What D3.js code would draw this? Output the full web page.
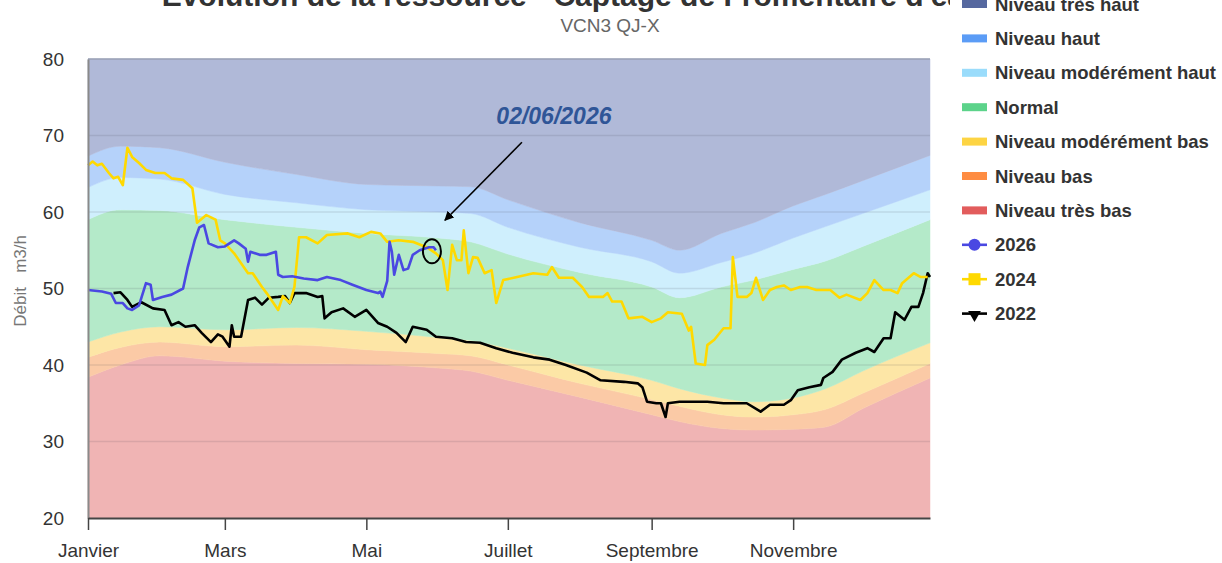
<!DOCTYPE html>
<html>
<head>
<meta charset="utf-8">
<script src="https://cdn.jsdelivr.net/npm/d3@7"></script>
<style>
  body { margin: 0; background: #fff; }
  svg { font-family: "Liberation Sans", Arial, sans-serif; display: block; }
</style>
</head>
<body>
<div id="chart"></div>
<script>
// Dimensions
var svgWidth = 1222;
var svgHeight = 563;

var chartMargin = { top: 59, right: 292, bottom: 45, left: 88 };
var chartWidth = svgWidth - chartMargin.left - chartMargin.right;
var chartHeight = svgHeight - chartMargin.top - chartMargin.bottom;

// Jours de l'année (0 = 1er janvier) des seuils
var seuilJours = [0, 14, 31, 59, 90, 120, 151, 165, 181, 212, 243, 255, 273, 287, 304, 318, 334, 363];
var seuilTresHaut = [67.3, 68.6, 68.4, 66.5, 64.9, 63.6, 63.4, 63.3, 61.6, 58.6, 56.3, 55.0, 57.2, 58.6, 60.8, 62.3, 64.1, 67.4];
var seuilHaut = [63.2, 64.5, 64.3, 62.3, 61.2, 60.3, 60.0, 59.8, 58.0, 55.4, 53.5, 52.0, 53.4, 54.6, 56.6, 58.1, 59.8, 62.9];
var seuilModHaut = [59.0, 60.3, 60.2, 59.0, 58.0, 57.2, 56.6, 56.1, 54.5, 52.1, 50.2, 48.8, 50.2, 51.1, 52.5, 53.6, 55.5, 59.0];
var seuilModBas = [43.0, 44.3, 45.0, 44.6, 44.9, 44.4, 43.6, 43.2, 42.2, 40.0, 38.0, 36.9, 35.7, 35.2, 35.7, 36.9, 39.2, 42.9];
var seuilBas = [41.0, 42.3, 43.0, 42.4, 42.6, 42.0, 41.5, 41.2, 40.0, 37.6, 35.5, 34.6, 33.5, 33.2, 33.5, 34.2, 36.3, 40.2];
var seuilTresBas = [38.4, 40.0, 41.2, 40.5, 40.2, 40.1, 39.6, 39.2, 38.0, 35.8, 33.5, 32.6, 31.7, 31.5, 31.6, 31.9, 34.3, 38.3];

// Chroniques
var jours2026 = [0, 6, 10, 12, 15, 17, 19, 22, 25, 27, 28, 32, 36, 41, 43, 46, 48, 50, 52, 56, 59, 63, 65, 68, 69, 70, 74, 77, 81, 82, 84, 88, 93, 99, 103, 109, 114, 120, 125, 126, 127, 129, 130, 131, 132, 134, 136, 138, 140, 143, 147, 149, 150];
var debit2026 = [49.8, 49.6, 49.3, 48.1, 48.1, 47.4, 47.2, 47.8, 50.7, 50.5, 48.5, 48.9, 49.2, 50.0, 52.8, 56.3, 58.0, 58.3, 55.9, 55.4, 55.5, 56.3, 55.9, 55.2, 53.5, 54.8, 54.4, 54.4, 54.8, 51.8, 51.5, 51.6, 51.3, 51.1, 51.5, 51.1, 50.5, 49.8, 49.4, 49.6, 48.9, 51.0, 56.1, 54.8, 51.8, 54.4, 52.4, 52.6, 54.4, 55.0, 55.4, 55.4, 55.0];

var jours2024 = [0, 2, 4, 6, 9, 11, 13, 15, 17, 19, 22, 25, 29, 33, 36, 41, 45, 47, 51, 55, 57, 59, 63, 69, 71, 75, 77, 82, 84, 87, 89, 91, 94, 99, 103, 112, 117, 122, 126, 129, 134, 140, 146, 150, 153, 155, 157, 159, 161, 162, 164, 166, 168, 171, 174, 176, 179, 185, 192, 198, 200, 203, 209, 213, 216, 222, 224, 226, 230, 233, 239, 243, 247, 250, 256, 259, 260, 262, 266, 267, 270, 274, 277, 278, 280, 284, 286, 288, 291, 294, 297, 300, 303, 307, 310, 314, 320, 324, 327, 333, 336, 339, 343, 346, 349, 351, 356, 359, 362];
var debit2024 = [66.1, 66.6, 66.1, 66.3, 65.1, 64.4, 64.6, 63.5, 68.4, 67.2, 66.4, 65.5, 65.1, 65.1, 64.4, 64.2, 63.1, 58.6, 59.6, 59.0, 56.3, 55.9, 54.6, 52.0, 52.0, 50.2, 49.4, 47.2, 49.0, 48.1, 50.2, 56.7, 56.7, 55.9, 57.0, 57.2, 56.7, 57.4, 57.2, 56.1, 56.3, 56.1, 55.4, 54.6, 53.7, 49.8, 55.7, 53.7, 53.7, 57.6, 52.0, 54.1, 54.0, 52.0, 52.4, 48.1, 51.1, 51.5, 52.0, 51.8, 52.8, 51.4, 51.4, 50.2, 48.9, 48.9, 49.4, 48.3, 48.3, 46.1, 46.3, 45.6, 46.1, 46.9, 46.7, 44.5, 45.0, 40.2, 40.0, 42.6, 43.3, 44.8, 44.8, 54.1, 48.9, 48.9, 49.4, 51.4, 48.5, 49.8, 50.2, 50.4, 49.8, 50.2, 50.2, 49.8, 49.8, 48.8, 49.2, 48.5, 49.4, 51.1, 49.8, 49.8, 49.4, 50.7, 52.0, 51.5, 51.5];

var jours2022 = [11, 14, 17, 19, 23, 28, 33, 36, 39, 42, 46, 49, 53, 56, 58, 61, 62, 63, 66, 69, 72, 75, 78, 82, 85, 87, 89, 94, 99, 101, 102, 105, 110, 115, 120, 125, 129, 133, 137, 140, 146, 150, 157, 163, 169, 176, 183, 192, 199, 206, 215, 221, 231, 237, 239, 241, 245, 247, 249, 250, 255, 267, 274, 284, 290, 294, 300, 303, 306, 311, 316, 317, 321, 325, 331, 336, 339, 343, 346, 348, 352, 355, 358, 360, 362, 363];
var debit2022 = [49.4, 49.5, 48.5, 47.6, 48.2, 47.4, 47.2, 45.2, 45.6, 45.0, 45.2, 44.2, 43.0, 44.0, 43.7, 42.4, 45.2, 43.7, 43.7, 48.5, 48.8, 47.9, 48.8, 48.9, 49.0, 48.1, 49.4, 49.4, 48.9, 49.0, 46.1, 46.9, 47.4, 46.3, 47.2, 45.5, 45.0, 44.2, 43.0, 45.0, 44.6, 43.7, 43.5, 43.0, 42.9, 42.2, 41.6, 41.0, 40.7, 40.0, 39.0, 38.0, 37.8, 37.6, 37.1, 35.2, 35.0, 35.0, 33.2, 35.0, 35.2, 35.2, 35.0, 35.0, 33.9, 34.8, 34.8, 35.4, 36.7, 37.1, 37.4, 38.3, 39.1, 40.7, 41.6, 42.2, 41.7, 43.5, 43.5, 46.9, 45.9, 47.6, 47.6, 49.4, 52.0, 51.5];

var moisTicks = ["Janvier", "Mars", "Mai", "Juillet", "Septembre", "Novembre"];
var yTicks = [20, 30, 40, 50, 60, 70, 80];

var start = new Date(2026, 0, 1);
function jour(d) { return d3.timeDay.offset(start, d); }

var svg = d3.select("#chart")
    .append("svg")
    .attr("width", svgWidth)
    .attr("height", svgHeight);

var chartGroup = svg.append("g")
    .attr("transform", `translate(${chartMargin.left}, ${chartMargin.top})`);

// Scales
var xScale = d3.scaleTime()
    .domain([jour(0), jour(363)])
    .range([0, chartWidth]);

var yScale = d3.scaleLinear()
    .domain([20, 80])
    .range([chartHeight, 0]);

// Bands
var seuils = seuilJours.map(function (j, i) {
    return {
        date: jour(j),
        v: [20, seuilTresBas[i], seuilBas[i], seuilModBas[i], seuilModHaut[i], seuilHaut[i], seuilTresHaut[i], 80]
    };
});

var bandColors = ["#f0b4b4", "#fbcaa6", "#fde6a6", "#b4eac9", "#cfeffd", "#b5d2fa", "#b0b9d8"];

bandColors.forEach(function (c, k) {
    var area = d3.area()
        .x(d => xScale(d.date))
        .y0(d => yScale(d.v[k]))
        .y1(d => yScale(d.v[k + 1]))
        .curve(d3.curveMonotoneX);
    chartGroup.append("path")
        .datum(seuils)
        .attr("d", area)
        .attr("fill", c)
        .attr("stroke", c)
        .attr("stroke-width", 0.5);
});

// Gridlines
chartGroup.append("g")
    .selectAll("line")
    .data(yTicks.slice(1))
    .enter()
    .append("line")
    .attr("x1", 0)
    .attr("x2", chartWidth)
    .attr("y1", d => yScale(d))
    .attr("y2", d => yScale(d))
    .attr("stroke", d => d == 80 ? "#9aa0b4" : "rgba(60,60,80,0.13)")
    .attr("stroke-width", 1.5);

// Lines
function serie(jours, valeurs) {
    return jours.map((j, i) => ({ date: jour(j), v: valeurs[i] }));
}
var line = d3.line()
    .x(d => xScale(d.date))
    .y(d => yScale(d.v));

var series = [
    { data: serie(jours2022, debit2022), color: "#000000" },
    { data: serie(jours2024, debit2024), color: "#ffd900" },
    { data: serie(jours2026, debit2026), color: "#4a48e2" }
];

series.forEach(function (s) {
    chartGroup.append("path")
        .datum(s.data)
        .attr("d", line)
        .attr("fill", "none")
        .attr("stroke", s.color)
        .attr("stroke-width", 2.6)
        .attr("stroke-linejoin", "round");
});

// Axes
var leftAxis = d3.axisLeft(yScale).tickValues(yTicks).tickSize(0).tickPadding(24);
var yAxisG = chartGroup.append("g").call(leftAxis);
yAxisG.select(".domain").attr("stroke", "#8a8a8a").attr("stroke-width", 2);
yAxisG.selectAll("text")
    .attr("font-size", 19)
    .attr("fill", "#333")
    .attr("font-family", "Liberation Sans, Arial, sans-serif");

var tickDates = [0, 2, 4, 6, 8, 10].map(m => new Date(2026, m, 1));
var bottomAxis = d3.axisBottom(xScale)
    .tickValues(tickDates)
    .tickFormat((d, i) => moisTicks[i])
    .tickSize(12)
    .tickSizeOuter(0)
    .tickPadding(14);
var xAxisG = chartGroup.append("g")
    .attr("transform", `translate(0, ${chartHeight})`)
    .call(bottomAxis);
xAxisG.select(".domain").attr("stroke", "#444").attr("stroke-width", 2);
xAxisG.selectAll("line").attr("stroke", "#444").attr("stroke-width", 1.5);
xAxisG.selectAll("text")
    .attr("font-size", 19)
    .attr("fill", "#333")
    .attr("font-family", "Liberation Sans, Arial, sans-serif");

// Axis title
svg.append("text")
    .attr("transform", `translate(26, ${chartMargin.top + yScale(51)}) rotate(-90)`)
    .attr("text-anchor", "middle")
    .attr("fill", "#777")
    .attr("font-size", 17)
    .style("white-space", "pre")
    .text("Débit   m3/h");

// Title + subtitle (title is partly above the top edge, as in the source)
svg.append("text")
    .attr("x", 572)
    .attr("y", 6)
    .attr("text-anchor", "middle")
    .attr("font-size", 30)
    .attr("font-weight", "bold")
    .attr("fill", "#333")
    .text("Évolution de la ressource - Captage de Fromentaire d'eau");

svg.append("text")
    .attr("x", 610)
    .attr("y", 32)
    .attr("text-anchor", "middle")
    .attr("font-size", 19)
    .attr("fill", "#666")
    .text("VCN3 QJ-X");

// Annotation
var last = series[2].data[series[2].data.length - 1];
var lx = chartMargin.left + xScale(last.date);
var ly = chartMargin.top + yScale(last.v);

svg.append("defs").append("marker")
    .attr("id", "arrow")
    .attr("viewBox", "0 0 10 10")
    .attr("refX", 9)
    .attr("refY", 5)
    .attr("markerWidth", 6)
    .attr("markerHeight", 6)
    .attr("orient", "auto")
    .append("path")
    .attr("d", "M0,0 L10,5 L0,10 z")
    .attr("fill", "#000");

svg.append("line")
    .attr("x1", lx + 86)
    .attr("y1", ly - 108)
    .attr("x2", lx + 9)
    .attr("y2", ly - 30)
    .attr("stroke", "#000")
    .attr("stroke-width", 1.6)
    .attr("marker-end", "url(#arrow)");

svg.append("ellipse")
    .attr("cx", lx - 4)
    .attr("cy", ly + 1)
    .attr("rx", 9)
    .attr("ry", 12)
    .attr("fill", "none")
    .attr("stroke", "#000")
    .attr("stroke-width", 2);

svg.append("text")
    .attr("x", lx + 118)
    .attr("y", ly - 126)
    .attr("text-anchor", "middle")
    .attr("font-size", 23)
    .attr("font-weight", "bold")
    .attr("font-style", "italic")
    .attr("fill", "#2f5597")
    .text("02/06/2026");

// Legend
var legendItems = [
    { name: "Niveau très haut", color: "#56689f", type: "band" },
    { name: "Niveau haut", color: "#5b9cf6", type: "band" },
    { name: "Niveau modérément haut", color: "#9adcfb", type: "band" },
    { name: "Normal", color: "#5cd38a", type: "band" },
    { name: "Niveau modérément bas", color: "#fdd443", type: "band" },
    { name: "Niveau bas", color: "#fe8c42", type: "band" },
    { name: "Niveau très bas", color: "#e25c5c", type: "band" },
    { name: "2026", color: "#4a48e2", type: "circle" },
    { name: "2024", color: "#ffd900", type: "square" },
    { name: "2022", color: "#000000", type: "triangle" }
];

var legend = svg.append("g").attr("transform", "translate(950, 0)");
legend.append("rect")
    .attr("x", 0).attr("y", 0)
    .attr("width", 272).attr("height", 330)
    .attr("fill", "#fff");

var rows = legend.selectAll("g.row")
    .data(legendItems)
    .enter()
    .append("g")
    .attr("class", "row")
    .attr("transform", (d, i) => `translate(0, ${4 + i * 34.4})`);

rows.filter(d => d.type == "band")
    .append("rect")
    .attr("x", 12).attr("y", -4)
    .attr("width", 25).attr("height", 8)
    .attr("fill", d => d.color);

rows.filter(d => d.type != "band")
    .append("line")
    .attr("x1", 12).attr("x2", 37)
    .attr("stroke", d => d.color)
    .attr("stroke-width", 2.6);

rows.filter(d => d.type == "circle")
    .append("circle")
    .attr("cx", 24.5).attr("r", 6)
    .attr("fill", d => d.color);

rows.filter(d => d.type == "square")
    .append("rect")
    .attr("x", 18.5).attr("y", -6)
    .attr("width", 12).attr("height", 12)
    .attr("fill", d => d.color);

rows.filter(d => d.type == "triangle")
    .append("path")
    .attr("d", d3.symbol(d3.symbolTriangle, 70))
    .attr("transform", "translate(24.5, 1) rotate(180)")
    .attr("fill", d => d.color);

rows.append("text")
    .attr("x", 45)
    .attr("y", 6.5)
    .attr("font-size", 18.5)
    .attr("font-weight", "bold")
    .attr("fill", "#333")
    .text(d => d.name);
</script>
</body>
</html>
